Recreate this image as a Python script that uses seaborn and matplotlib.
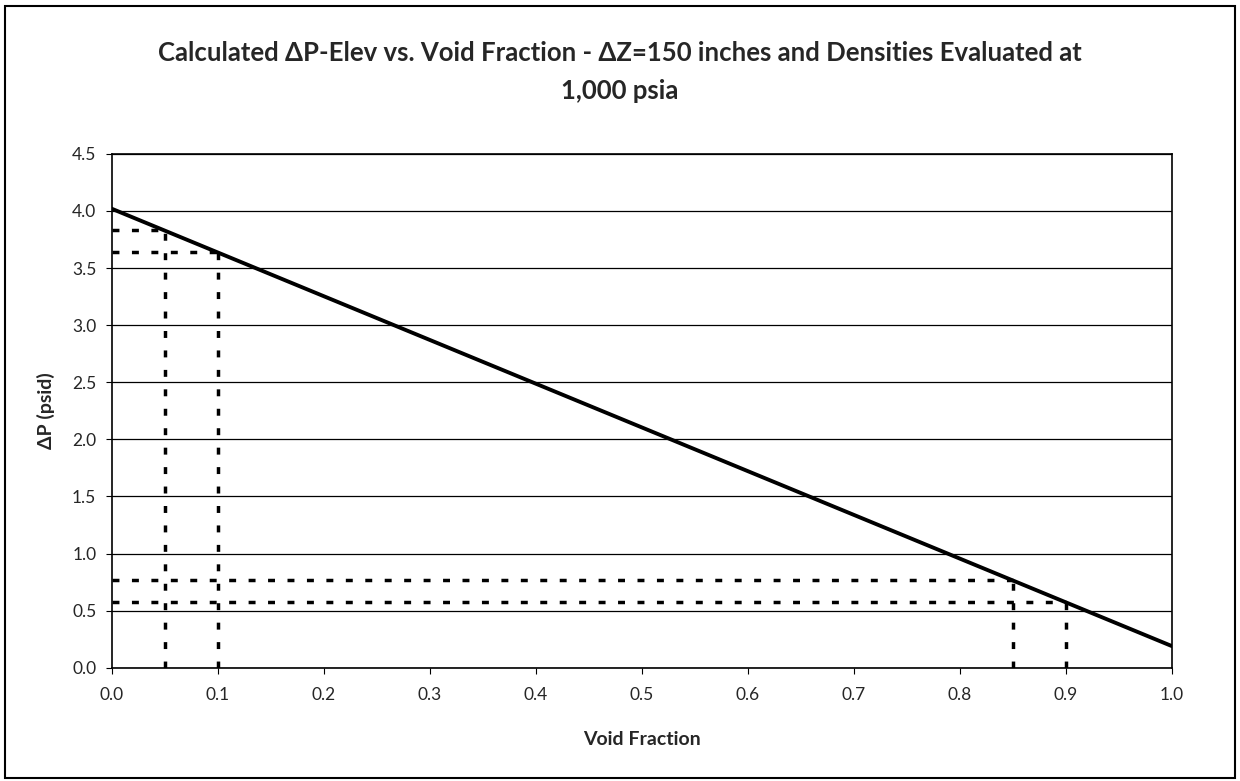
import numpy as np
import pandas as pd
import matplotlib
matplotlib.use("Agg")
import matplotlib.pyplot as plt
import seaborn as sns

# Data
void_fraction = [0.0, 1.0]
delta_p = [4.02, 0.19]

# guide points (dotted read-off lines)
guide_x = [0.05, 0.10, 0.85, 0.90]
guide_y = [3.83, 3.64, 0.77, 0.58]

x_ticks = [0.0, 0.1, 0.2, 0.3, 0.4, 0.5, 0.6, 0.7, 0.8, 0.9, 1.0]
y_ticks = [0.0, 0.5, 1.0, 1.5, 2.0, 2.5, 3.0, 3.5, 4.0, 4.5]

sns.set_style("white")
plt.rcParams['font.family'] = ['Lato', 'DejaVu Sans']

fig = plt.figure(figsize=(12.4, 7.81), dpi=100)
ax = fig.add_axes([0.090, 0.145, 0.855, 0.658])

df = pd.DataFrame({'Void Fraction': void_fraction, 'dP': delta_p})
sns.lineplot(data=df, x='Void Fraction', y='dP', ax=ax, color='black', linewidth=2.8, zorder=4)

dots = (0, (2.0, 3.6))
for gx, gy in zip(guide_x, guide_y):
    ax.plot([gx, gx], [0, gy], color='black', linestyle=dots, linewidth=2.5, zorder=3)
    ax.plot([0, gx], [gy, gy], color='black', linestyle=dots, linewidth=2.5, zorder=3)

ax.set_xlim(0, 1.0)
ax.set_ylim(0, 4.5)
ax.set_xticks(x_ticks)
ax.set_yticks(y_ticks)
ax.set_xticklabels([f"{v:.1f}" for v in x_ticks], fontsize=12.5)
ax.set_yticklabels([f"{v:.1f}" for v in y_ticks], fontsize=12.5)
ax.tick_params(axis='x', length=4, color='black', direction='out', bottom=True, pad=10)
ax.tick_params(axis='y', length=4, color='black', direction='out', left=True, pad=7)
ax.yaxis.grid(True, color='black', linewidth=0.9)
ax.xaxis.grid(False)
for s in ax.spines.values():
    s.set_visible(True)
    s.set_color('black')
    s.set_linewidth(1.2)

ax.set_xlabel('Void Fraction', fontsize=14, fontweight='bold', labelpad=20)
ax.set_ylabel('ΔP (psid)', fontsize=14, fontweight='bold', labelpad=12)

fig.suptitle('Calculated ΔP-Elev vs. Void Fraction - ΔZ=150 inches and Densities Evaluated at\n1,000 psia',
             fontsize=18.5, fontweight='bold', y=0.948, linespacing=1.7)

# figure border
fig.patches.append(plt.Rectangle((0.004, 0.004), 0.992, 0.988, transform=fig.transFigure,
                                 fill=False, edgecolor='black', linewidth=1.5))

fig.savefig('out.png', dpi=100)
